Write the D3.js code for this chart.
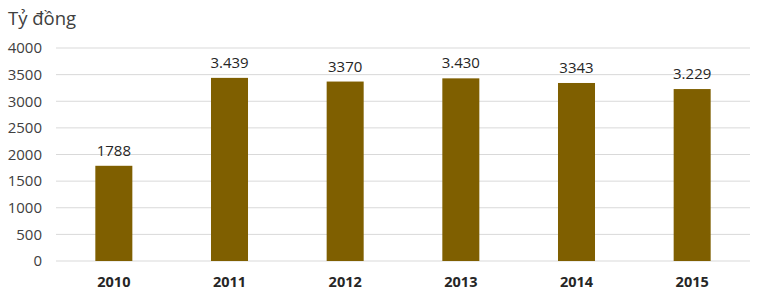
<!DOCTYPE html>
<html>
<head>
<meta charset="utf-8">
<script src="https://cdn.jsdelivr.net/npm/d3@7"></script>
<style>
  body { margin: 0; background: #fff; }
  svg { display: block; font-family: "Open Sans", "Noto Sans", sans-serif; }
</style>
</head>
<body>
<svg id="chart" width="760" height="293"></svg>
<script>
// data
const years = ["2010", "2011", "2012", "2013", "2014", "2015"];
const values = [1788, 3439, 3370, 3430, 3343, 3229];
const valueLabels = ["1788", "3.439", "3370", "3.430", "3343", "3.229"];
const yTicks = [0, 500, 1000, 1500, 2000, 2500, 3000, 3500, 4000];
const unitLabel = "Tỷ đồng";

const svg = d3.select("#chart");
const margin = { left: 56, right: 10, top: 48, bottom: 32 };
const width = 760, height = 293;

const x = d3.scaleBand().domain(years)
  .range([margin.left, width - margin.right])
  .paddingInner(0.68).paddingOuter(0.34);
const y = d3.scaleLinear().domain([0, 4000]).range([height - margin.bottom, margin.top]);

// gridlines
svg.append("g")
  .selectAll("line").data(yTicks).enter().append("line")
  .attr("x1", margin.left).attr("x2", width - margin.right)
  .attr("y1", d => y(d)).attr("y2", d => y(d))
  .attr("stroke", "#d9d9d9").attr("stroke-width", 1);

// y axis labels
const yAxis = svg.append("g")
  .attr("transform", `translate(${margin.left},0)`)
  .call(d3.axisLeft(y).tickValues(yTicks).tickSize(0).tickPadding(14).tickFormat(d3.format("d")));
yAxis.select(".domain").remove();
yAxis.selectAll("text").attr("font-size", 15).attr("fill", "#404040")
  .attr("font-family", "'Open Sans', 'Noto Sans', sans-serif");

// bars
svg.append("g")
  .selectAll("rect").data(values).enter().append("rect")
  .attr("x", (d, i) => x(years[i]))
  .attr("width", x.bandwidth())
  .attr("y", d => y(d))
  .attr("height", d => y(0) - y(d))
  .attr("fill", "#7f5f00");

// value labels
svg.append("g")
  .selectAll("text").data(values).enter().append("text")
  .attr("x", (d, i) => x(years[i]) + x.bandwidth() / 2)
  .attr("y", d => y(d) - 10)
  .attr("text-anchor", "middle")
  .attr("font-size", 15)
  .attr("fill", "#262626")
  .text((d, i) => valueLabels[i]);

// x axis labels
const xAxis = svg.append("g")
  .attr("transform", `translate(0,${height - margin.bottom})`)
  .call(d3.axisBottom(x).tickSize(0).tickPadding(16));
xAxis.select(".domain").remove();
xAxis.selectAll("text").attr("font-size", 14.5).attr("font-weight", "bold").attr("fill", "#262626")
  .attr("font-family", "'Open Sans', 'Noto Sans', sans-serif");

// unit title
svg.append("text")
  .attr("x", 8).attr("y", 25)
  .attr("font-size", 18.5)
  .attr("fill", "#404040")
  .text(unitLabel);
</script>
</body>
</html>
